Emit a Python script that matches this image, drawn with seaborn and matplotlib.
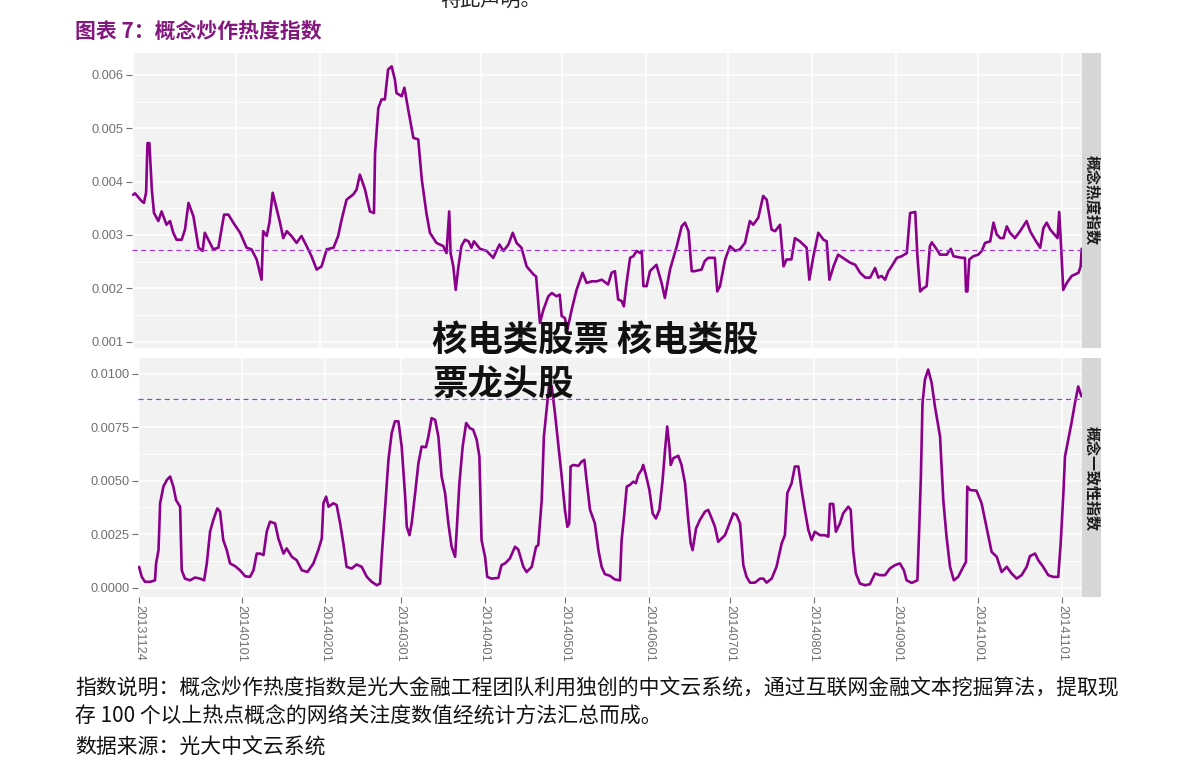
import pandas as pd
import matplotlib
matplotlib.use('Agg')
import matplotlib.pyplot as plt
import matplotlib.ticker as mticker
from matplotlib.patches import Rectangle
import seaborn as sns

# ---- data ----
START = pd.Timestamp('2013-11-24')

# 概念热度指数: days since START, values in 1e-3
heat_days = [0.0, 0.7, 3.2, 4.0, 4.8, 5.3, 6.0, 6.9, 7.7, 9.3, 10.5, 12.3, 13.6, 14.8, 16.0, 17.9, 19.1, 20.4,
             22.2, 24.1, 25.6, 26.4, 27.7, 29.5, 31.4, 33.5, 35.1, 36.9, 39.4, 41.8, 43.6, 45.5, 47.3, 47.9,
             49.2, 50.2, 51.4, 52.9, 54.1, 55.3, 56.6, 58.3, 60.2, 62.0, 63.9, 65.7, 67.6, 69.4, 71.3, 73.8,
             75.5, 76.8, 78.6, 81.1, 82.3, 83.5, 85.4, 87.2, 88.7, 89.1, 90.3, 91.5, 92.7, 93.9, 95.2, 96.4,
             97.0, 98.9, 99.9, 101.3, 103.2, 105.0, 106.3, 108.0, 109.3, 111.7, 114.2, 115.4, 116.4, 116.9,
             117.9, 118.8, 119.8, 120.9, 122.2, 123.5, 124.6, 125.5, 127.7, 130.2, 132.6, 134.9, 136.4, 138.2,
             139.8, 141.2, 143.0, 144.9, 147.4, 148.4, 149.8, 151.1, 152.9, 154.2, 155.9, 157.1, 157.8, 159.0,
             159.9, 161.5, 163.3, 165.5, 167.0, 168.9, 170.7, 172.6, 174.9, 176.2, 177.4, 178.6, 179.9, 180.7,
             181.7, 183.0, 184.2, 185.4, 186.7, 187.3, 187.9, 189.1, 190.3, 192.7, 194.6, 195.8, 197.7, 200.2,
             202.0, 203.2, 204.5, 205.7, 206.8, 209.3, 210.5, 211.8, 214.2, 215.1, 216.1, 218.0, 219.8, 221.7,
             223.5, 225.3, 227.1, 228.3, 230.2, 232.0, 233.3, 235.1, 236.4, 238.2, 239.5, 240.6, 242.4, 243.7,
             245.5, 248.0, 249.0, 250.5, 252.3, 254.2, 255.4, 256.4, 257.9, 259.6, 262.2, 264.0, 265.9, 267.7,
             269.6, 271.4, 273.2, 274.4, 275.6, 276.9, 278.1, 279.3, 281.2, 283.0, 284.9, 286.1, 288.0, 288.8,
             289.8, 291.0, 292.2, 293.4, 294.1, 295.9, 297.1, 299.6, 301.1, 302.1, 305.2, 306.3, 306.7, 307.2,
             307.9, 309.4, 311.2, 312.5, 313.7, 315.6, 316.8, 318.0, 319.3, 320.5, 321.7, 322.9, 324.7, 326.6,
             329.0, 330.3, 332.1, 334.0, 335.2, 336.4, 337.7, 339.2, 340.4, 341.0, 341.5, 342.5, 343.8, 345.6,
             348.1, 348.9, 349.3]
heat_vals = [3.75, 3.78, 3.63, 3.60, 3.80, 4.72, 4.72, 3.85, 3.41, 3.26, 3.44, 3.19, 3.26, 3.04, 2.91, 2.91, 3.10,
             3.60, 3.35, 2.76, 2.70, 3.04, 2.91, 2.73, 2.76, 3.38, 3.38, 3.23, 3.04, 2.76, 2.73, 2.54, 2.16, 3.07,
             2.98, 3.23, 3.79, 3.48, 3.23, 2.94, 3.07, 2.98, 2.85, 2.98, 2.79, 2.60, 2.35, 2.41, 2.73, 2.76,
             2.98, 3.29, 3.66, 3.76, 3.85, 4.13, 3.85, 3.44, 3.41, 4.54, 5.38, 5.54, 5.54, 6.10, 6.16, 5.91,
             5.66, 5.60, 5.76, 5.35, 4.82, 4.79, 4.04, 3.41, 3.04, 2.85, 2.79, 2.66, 3.44, 2.66, 2.41, 1.97,
             2.41, 2.79, 2.91, 2.88, 2.76, 2.88, 2.74, 2.70, 2.57, 2.82, 2.70, 2.82, 3.04, 2.85, 2.76, 2.41,
             2.26, 2.22, 1.35, 1.60, 1.85, 1.91, 1.85, 1.88, 1.48, 1.44, 1.22, 1.60, 1.97, 2.29, 2.10, 2.13,
             2.13, 2.16, 2.07, 2.29, 2.32, 1.79, 1.76, 1.66, 2.10, 2.57, 2.60, 2.70, 2.66, 2.70, 2.04, 2.04,
             2.32, 2.44, 2.10, 1.82, 2.35, 2.79, 3.16, 3.23, 3.07, 2.32, 2.32, 2.35, 2.51, 2.57, 2.57, 1.94,
             2.04, 2.54, 2.79, 2.70, 2.73, 2.85, 3.26, 3.19, 3.32, 3.73, 3.66, 3.10, 3.07, 3.19, 2.41, 2.54,
             2.54, 2.94, 2.88, 2.76, 2.16, 2.60, 3.04, 2.91, 2.88, 2.16, 2.41, 2.63, 2.54, 2.48, 2.44, 2.29,
             2.20, 2.20, 2.38, 2.20, 2.23, 2.16, 2.32, 2.41, 2.57, 2.60, 2.66, 3.41, 3.43, 2.60, 1.94, 2.00,
             2.04, 2.79, 2.86, 2.73, 2.63, 2.63, 2.74, 2.60, 2.57, 2.57, 1.94, 1.94, 2.54, 2.60, 2.63, 2.70,
             2.85, 2.88, 3.23, 3.01, 2.94, 2.94, 3.16, 3.04, 2.94, 3.07, 3.26, 3.07, 2.91, 2.76, 3.13, 3.23,
             3.10, 3.01, 2.94, 3.43, 2.98, 1.97, 2.10, 2.23, 2.29, 2.41, 2.74]

# 概念一致性指数: days since START, values in 1e-3
cons_days = [0.0, 1.0, 2.2, 4.1, 5.9, 6.3, 7.2, 7.8, 9.0, 10.3, 11.5, 12.7, 13.7, 15.2, 15.8, 17.0, 18.9, 20.7,
             22.6, 24.1, 25.1, 26.3, 27.5, 29.0, 30.0, 31.2, 32.5, 33.7, 35.6, 37.4, 39.3, 41.1, 42.4, 43.6,
             44.8, 46.1, 47.3, 48.5, 50.4, 51.6, 53.5, 54.7, 56.6, 58.4, 60.3, 62.4, 64.6, 66.4, 67.7, 68.3,
             69.3, 70.2, 72.0, 73.2, 74.5, 75.7, 76.9, 78.8, 80.6, 82.5, 84.4, 86.2, 88.1, 89.3, 89.9, 91.1,
             92.4, 93.6, 94.8, 96.1, 97.3, 98.6, 99.2, 100.2, 101.0, 102.3, 103.5, 104.7, 106.3, 107.2, 108.4,
             109.7, 110.9, 112.1, 113.4, 114.6, 115.8, 117.1, 117.7, 118.7, 119.9, 121.2, 122.6, 123.8, 125.1,
             126.1, 126.9, 128.2, 129.0, 130.6, 133.1, 134.3, 135.6, 137.4, 139.3, 140.5, 142.4, 143.6, 145.5,
             147.1, 147.9, 149.2, 150.0, 151.0, 152.0, 152.9, 154.1, 155.3, 156.6, 157.8, 158.7, 159.4, 159.9,
             160.9, 162.8, 164.0, 165.0, 165.8, 167.1, 168.9, 170.2, 171.4, 172.6, 174.5, 176.3, 178.2, 178.8,
             179.7, 180.7, 181.9, 183.1, 184.1, 185.0, 186.2, 186.8, 187.8, 189.1, 190.3, 191.5, 192.8, 194.0,
             194.9, 195.7, 196.5, 197.0, 198.0, 199.8, 201.0, 202.3, 203.5, 204.4, 205.1, 206.4, 207.8, 209.7,
             210.9, 212.2, 213.4, 214.6, 215.9, 217.1, 218.3, 220.2, 221.4, 222.7, 223.9, 225.1, 226.4, 228.2,
             230.1, 231.3, 232.5, 234.4, 236.2, 238.1, 239.3, 240.2, 241.8, 243.0, 244.3, 245.5, 246.7, 248.0,
             249.2, 250.4, 252.3, 254.1, 255.4, 256.0, 257.2, 258.2, 259.7, 260.9, 262.8, 263.7, 264.6, 265.6,
             267.1, 269.0, 270.8, 272.7, 274.5, 276.4, 278.2, 280.1, 281.9, 283.4, 284.4, 286.3, 288.4, 289.1,
             289.7, 290.3, 291.2, 292.4, 293.7, 294.9, 296.8, 298.0, 299.2, 300.5, 301.9, 303.5, 305.4, 306.4,
             306.9, 307.9, 310.3, 312.2, 314.0, 315.9, 317.8, 319.6, 321.5, 323.3, 325.2, 327.0, 328.9, 330.1,
             332.0, 333.2, 335.0, 336.9, 338.7, 340.6, 341.5, 342.5, 343.1, 344.3, 345.5, 346.8, 348.0, 348.6,
             349.2]
cons_vals = [0.97, 0.50, 0.27, 0.27, 0.34, 1.13, 1.75, 3.94, 4.72, 5.03, 5.19, 4.72, 4.09, 3.78, 0.81, 0.42, 0.34,
             0.47, 0.42, 0.34, 1.13, 2.61, 3.16, 3.70, 3.55, 2.22, 1.75, 1.13, 1.00, 0.81, 0.53, 0.50, 0.81, 1.59,
             1.59, 1.52, 2.61, 3.08, 3.00, 2.30, 1.59, 1.83, 1.44, 1.28, 0.81, 0.73, 1.13, 1.75, 2.30, 3.94,
             4.25, 3.78, 3.94, 3.86, 3.00, 2.06, 0.97, 0.89, 1.08, 0.97, 0.50, 0.27, 0.11, 0.19, 1.44, 3.63,
             5.97, 7.22, 7.77, 7.77, 6.59, 4.25, 2.84, 2.45, 3.00, 4.41, 5.81, 6.59, 6.56, 7.06, 7.92,
             7.84, 7.06, 5.19, 4.41, 3.00, 1.91, 1.44, 2.69, 4.88, 6.59, 7.69, 7.45, 7.38, 6.91,
             6.13, 2.22, 1.44, 0.50, 0.42, 0.45, 1.05, 1.13, 1.36, 1.91, 1.78, 0.97, 0.73, 0.97,
             1.91, 1.98, 4.09, 7.06, 8.31, 9.56, 9.40, 8.16, 6.75, 5.19, 3.63, 2.84, 3.00, 5.66,
             5.73, 5.69, 5.89, 5.97, 5.03, 3.63, 3.00, 1.75, 0.97, 0.63, 0.55, 0.38, 0.34, 2.22,
             3.31, 4.72, 4.80, 4.95, 4.88, 5.27, 5.50, 5.73, 5.27, 4.56, 3.47, 3.23, 3.63, 5.03,
             6.44, 7.53, 6.59, 5.73, 6.05, 6.16, 5.73, 4.88, 3.16, 2.06, 1.75, 2.77, 3.16, 3.55,
             3.63, 3.23, 2.84, 2.14, 2.30, 2.45, 2.84, 3.47, 3.39, 3.00, 1.05, 0.50, 0.23, 0.23,
             0.42, 0.42, 0.23, 0.42, 0.97, 2.06, 2.45, 4.41, 4.88, 5.66, 5.66, 4.56, 3.63, 2.69,
             2.22, 2.61, 2.45, 2.45, 2.38, 3.91, 3.91, 2.61, 3.00, 3.47, 3.78, 3.63, 1.75, 0.66,
             0.19, 0.11, 0.16, 0.66, 0.58, 0.58, 0.89, 1.05, 1.13, 0.81, 0.34, 0.22, 0.34, 2.84,
             5.19, 8.63, 9.72, 10.19, 9.56, 8.47, 7.06, 4.09, 2.38, 0.97, 0.34, 0.50, 0.97, 1.20,
             4.72, 4.56, 4.53, 3.94, 2.84, 1.67, 1.44, 0.73, 0.97, 0.66, 0.42, 0.58, 0.97, 1.47,
             1.59, 1.28, 0.97, 0.58, 0.50, 0.50, 2.06, 4.41, 6.13, 6.91, 7.69, 8.63, 9.40, 9.17,
             8.94]

heat_mean = 0.002725
cons_mean = 0.00881

panel_names = ['概念热度指数', '概念一致性指数']
date_ticks = ['20131124', '20140101', '20140201', '20140301', '20140401', '20140501', '20140601',
              '20140701', '20140801', '20140901', '20141001', '20141101']
heat_yticks = [0.001, 0.002, 0.003, 0.004, 0.005, 0.006]
cons_yticks = [0.0, 0.0025, 0.005, 0.0075, 0.01]

title = '图表 7：概念炒作热度指数'
notes = ['指数说明：概念炒作热度指数是光大金融工程团队利用独创的中文云系统，通过互联网金融文本挖掘算法，提取现',
         '存 100 个以上热点概念的网络关注度数值经统计方法汇总而成。',
         '数据来源：光大中文云系统']
overlay = ['核电类股票 核电类股', '票龙头股']

# ---- build frames ----
heat = pd.DataFrame({'date': START + pd.to_timedelta(heat_days, unit='D'),
                     'value': [v * 1e-3 for v in heat_vals]})
cons = pd.DataFrame({'date': START + pd.to_timedelta(cons_days, unit='D'),
                     'value': [v * 1e-3 for v in cons_vals]})

sns.set_style('darkgrid', {'axes.facecolor': '#F2F2F2', 'grid.color': 'white'})
plt.rcParams['font.family'] = ['Liberation Sans', 'DejaVu Sans']
CJK = ['Noto Sans CJK SC', 'DejaVu Sans']

W, H = 1191, 781
fig = plt.figure(figsize=(W / 100, H / 100), dpi=100)
fig.patch.set_facecolor('white')


def px_axes(x0, y0, x1, y1):
    return fig.add_axes([x0 / W, 1 - y1 / H, (x1 - x0) / W, (y1 - y0) / H])


ax1 = px_axes(132, 53, 1082, 348)
ax2 = px_axes(138, 358, 1082, 597)

LINE = '#8B008B'
DASH = '#A23BD0'
TICK = '#707070'
xmin = START + pd.Timedelta(days=-0.4)
xmax = START + pd.Timedelta(days=349.4)
ticks = pd.to_datetime(date_ticks, format='%Y%m%d')

for ax, df, mean, yt, fmt, ylim, name, ymid in [
        (ax1, heat, heat_mean, heat_yticks, '%.3f', (0.00088, 0.00641), panel_names[0], 200),
        (ax2, cons, cons_mean, cons_yticks, '%.4f', (-0.00044, 0.01073), panel_names[1], 478)]:
    sns.lineplot(data=df, x='date', y='value', ax=ax, color=LINE, linewidth=1.9,
                 estimator=None, sort=False)
    ax.axhline(mean, color=DASH, linewidth=0.9, linestyle=(0, (4, 3)))
    ax.set_xlim(xmin, xmax)
    ax.set_ylim(*ylim)
    ax.set_yticks(yt)
    ax.yaxis.set_major_formatter(mticker.FormatStrFormatter(fmt))
    step = yt[1] - yt[0]
    ax.yaxis.set_minor_locator(mticker.FixedLocator([t + step / 2 for t in yt]))
    ax.set_xticks(ticks)
    ax.grid(True, which='major', color='white', linewidth=1.2)
    ax.grid(True, which='minor', axis='y', color='white', linewidth=0.6)
    ax.set_xlabel('')
    ax.set_ylabel('')
    for s in ax.spines.values():
        s.set_visible(False)
    ax.tick_params(axis='both', which='major', length=4, width=0.8, color=TICK,
                   labelcolor=TICK, labelsize=9.2, pad=2, left=True, bottom=True)
    ax.tick_params(axis='both', which='minor', length=0)
    # facet strip on the right
    y0, y1 = (53, 348) if ax is ax1 else (358, 597)
    fig.add_artist(Rectangle((1082 / W, 1 - y1 / H), 19 / W, (y1 - y0) / H,
                             transform=fig.transFigure, facecolor='#D6D6D6', edgecolor='none'))
    fig.text(1092 / W, 1 - ymid / H, name, rotation=270, ha='center', va='center',
             fontsize=10.8, fontweight='bold', color='#1A1A1A', family=CJK)

ax1.set_xticklabels([])
ax1.tick_params(axis='x', length=0)
ax2.set_xticklabels(date_ticks, rotation=270, va='top', ha='center')

# ---- surrounding text (the top line is cut by the page edge, as in the source) ----
fig.text(440 / W, 1 - 0 / H, '特此声明。', ha='left', va='center', fontsize=14.5, family=CJK, color='#222222')
fig.text(75 / W, 1 - 31 / H, title, ha='left', va='center', fontsize=15, fontweight='bold',
         family=CJK, color='#83197F')
for txt, yc in zip(notes, [688, 717, 748]):
    fig.text(75 / W, 1 - yc / H, txt, ha='left', va='center', fontsize=15, family=CJK, color='#111111')
for txt, yc in zip(overlay, [340, 385]):
    fig.text(432 / W, 1 - yc / H, txt, ha='left', va='center', fontsize=25.5, fontweight='heavy',
             family=CJK, color='#111111', zorder=10)

fig.savefig('out.png', dpi=100)
